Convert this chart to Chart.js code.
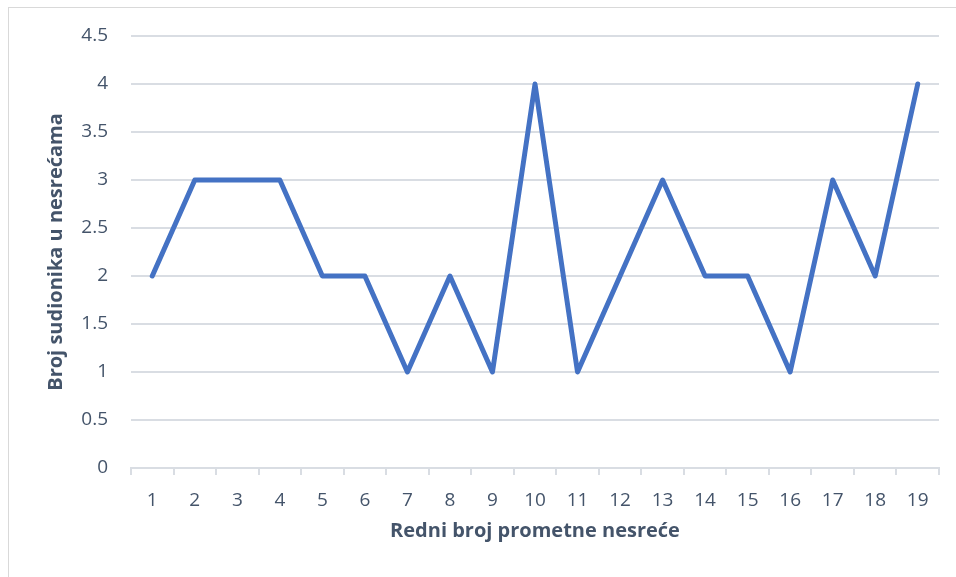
<!DOCTYPE html>
<html>
<head>
<meta charset="utf-8">
<script src="https://cdn.jsdelivr.net/npm/chart.js@4"></script>
<style>
  html, body { margin: 0; padding: 0; background: #fff; }
  #frame { position: absolute; left: 8px; top: 7px; width: 960px; height: 600px; border: 1px solid #d9d9d9; box-sizing: border-box; }
  #wrap { position: absolute; left: 0; top: 0; width: 956px; height: 577px; }
</style>
</head>
<body>
<div id="frame"></div>
<div id="wrap"><canvas id="chart"></canvas></div>
<script>
// accident number (x) and number of participants (y)
const categories = ["1","2","3","4","5","6","7","8","9","10","11","12","13","14","15","16","17","18","19"];
const participants = [2,3,3,3,2,2,1,2,1,4,1,2,3,2,2,1,3,2,4];
const xTitle = "Redni broj prometne nesreće";
const yTitle = "Broj sudionika u nesrećama";

const textColor = "#44546a";
const gridColor = "#d9dde3";
const fontFamily = "'Open Sans', Lato, sans-serif";

const ctx = document.getElementById("chart").getContext("2d");
new Chart(ctx, {
  type: "line",
  data: {
    labels: categories,
    datasets: [{
      data: participants,
      borderColor: "#4472c4",
      borderWidth: 5,
      borderCapStyle: "round",
      borderJoinStyle: "round",
      pointRadius: 0,
      tension: 0,
      fill: false
    }]
  },
  options: {
    responsive: true,
    maintainAspectRatio: false,
    animation: false,
    layout: { padding: { top: 36, right: 17, bottom: 0, left: 0 } },
    plugins: { legend: { display: false }, tooltip: { enabled: false } },
    scales: {
      x: {
        offset: true,
        grid: { offset: true, drawOnChartArea: false, drawTicks: true, tickLength: 7, color: gridColor, lineWidth: 2 },
        border: { color: gridColor, width: 2 },
        ticks: { color: textColor, font: { family: fontFamily, size: 19 }, padding: 14, maxRotation: 0, autoSkip: false },
        title: { display: true, text: xTitle, color: textColor, font: { family: fontFamily, size: 20, weight: "bold" }, padding: { top: 0, bottom: 34 } },
        afterFit: function(scale) { scale.height = 109; }
      },
      y: {
        min: 0,
        max: 4.5,
        ticks: {
          stepSize: 0.5, color: textColor, font: { family: fontFamily, size: 19 }, padding: 23,
          callback: function(v) { return String(v); }
        },
        grid: { color: gridColor, lineWidth: 2, drawTicks: false },
        border: { display: false },
        title: { display: true, text: yTitle, color: textColor, font: { family: fontFamily, size: 20, weight: "bold" }, padding: { top: 44, bottom: 0 } },
        afterFit: function(scale) { scale.width = 131; }
      }
    }
  }
});
</script>
</body>
</html>
